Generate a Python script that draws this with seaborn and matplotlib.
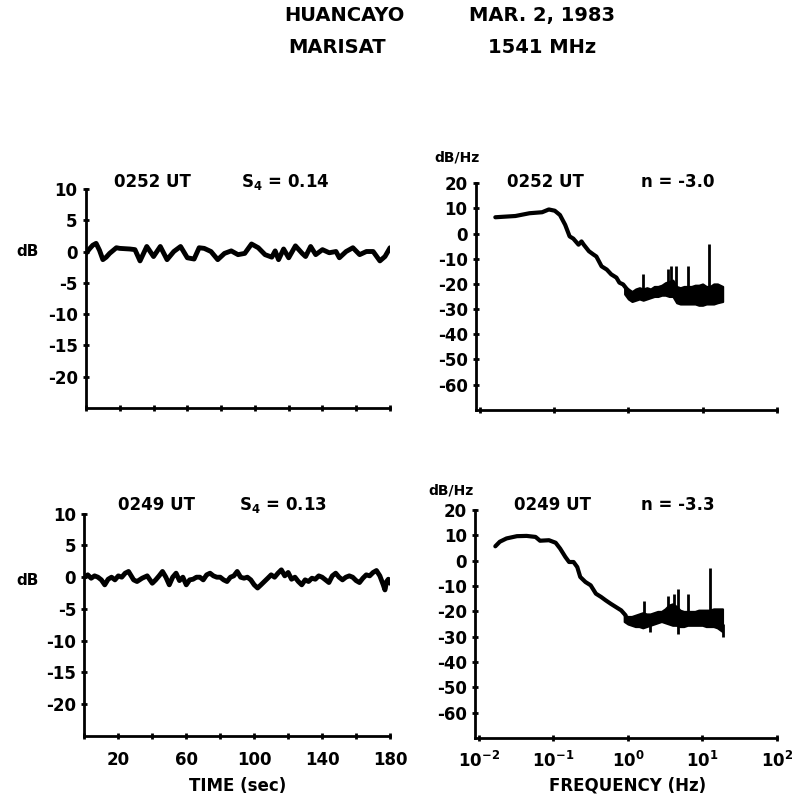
import numpy as np
import matplotlib
matplotlib.use('Agg')
import matplotlib.pyplot as plt
from matplotlib.ticker import LogLocator, NullLocator, FixedLocator, FixedFormatter
import seaborn as sns

# ---- amplitude records (time in s, level in dB) ----
t_0252 = [0, 2, 4, 6, 8, 10, 12, 14, 18, 20, 26, 29, 32, 36, 40, 44, 48, 52, 56, 60,
          64, 67, 70, 74, 78, 82, 86, 90, 94, 98, 102, 106, 110, 112, 114, 117, 120,
          124, 128, 130, 133, 136, 140, 144, 148, 150, 154, 158, 162, 166, 170, 174,
          177, 180]
db_0252 = [-0.3, 0.4, 1.0, 1.3, 0.2, -1.3, -0.9, -0.3, 0.6, 0.5, 0.4, 0.3, -1.5, 0.8,
           -0.8, 0.8, -1.3, 0.0, 0.8, -1.0, -1.2, 0.6, 0.5, 0.0, -1.3, -0.3, 0.1, -0.5,
           -0.3, 1.2, 0.6, -0.5, -0.9, 0.1, -1.3, 0.4, -1.0, 0.9, -0.3, -0.8, 0.8, -0.5,
           0.3, -0.2, 0.0, -1.0, 0.0, 0.6, -0.5, 0.0, 0.0, -1.5, -0.8, 0.6]

t_0249 = [0, 2, 4, 6, 8, 10, 12, 14, 16, 18, 20, 22, 24, 26, 29, 31, 34, 37, 40, 42,
          44, 46, 48, 50, 52, 54, 56, 58, 60, 62, 64, 66, 68, 70, 72, 74, 76, 78, 80,
          82, 84, 86, 88, 90, 92, 94, 96, 98, 100, 102, 104, 106, 108, 110, 112, 114,
          116, 118, 120, 122, 124, 126, 128, 130, 132, 134, 136, 138, 140, 142, 144,
          146, 148, 150, 152, 154, 156, 158, 160, 162, 164, 166, 168, 170, 172, 174,
          176, 177, 178, 179, 180]
db_0249 = [0.0, 0.37, -0.16, 0.21, 0.0, -0.42, -1.2, -0.32, 0.0, -0.42, 0.21, 0.0, 0.63,
           0.9, -0.42, -0.68, -0.16, 0.21, -0.95, -0.42, 0.21, 0.9, 0.0, -1.2, 0.0, 0.63,
           -0.53, 0.0, -1.2, -0.42, -0.32, 0.0, 0.0, -0.42, 0.37, 0.63, 0.21, 0.0, 0.0,
           -0.42, -0.68, 0.0, 0.21, 0.9, 0.0, -0.16, 0.0, -0.42, -1.2, -1.7, -1.2, -0.68,
           -0.16, 0.37, 0.0, 0.63, 1.16, 0.21, 0.74, -0.32, 0.0, -0.68, -1.2, -0.42,
           -0.68, -0.16, -0.32, 0.21, 0.0, -0.42, -0.84, 0.21, 0.63, 0.0, -0.42, 0.0,
           0.21, 0.0, -0.53, -0.84, -0.16, 0.37, 0.21, 0.74, 1.05, 0.21, -1.2, -2.0,
           -0.68, -0.32, -0.95]

# ---- spectra: log10(frequency) and dB/Hz ----
lf_0252 = [-1.79, -1.52, -1.33, -1.16, -1.07, -0.99, -0.92, -0.85, -0.79, -0.74, -0.67,
           -0.63, -0.60, -0.53, -0.47, -0.43, -0.36, -0.29, -0.23, -0.16, -0.12, -0.07, 0.0]
sp_0252 = [6.5, 7.0, 8.1, 8.5, 9.6, 9.1, 7.4, 3.5, -1.1, -2.0, -4.4, -3.1, -4.4, -7.0,
           -8.3, -9.1, -13.0, -14.3, -16.2, -17.5, -19.5, -20.2, -22.8]
lf_0249 = [-1.78, -1.72, -1.63, -1.49, -1.36, -1.24, -1.18, -1.06, -0.97, -0.91, -0.84,
           -0.79, -0.73, -0.68, -0.64, -0.57, -0.50, -0.43, -0.36, -0.30, -0.23, -0.16,
           -0.09, -0.03]
sp_0249 = [5.7, 7.5, 8.8, 9.7, 9.8, 9.4, 7.9, 8.1, 7.1, 4.8, 1.5, -0.5, -0.5, -2.5, -6.4,
           -8.4, -9.7, -13.0, -14.3, -15.6, -17.0, -18.3, -19.6, -21.6]

# noisy high-frequency part: band edges
band_lf = [-0.05, 0.0, 0.05, 0.1, 0.15, 0.2, 0.25, 0.3, 0.35, 0.4, 0.45, 0.5, 0.55, 0.6,
           0.65, 0.7, 0.75, 0.8, 0.85, 0.9, 0.95, 1.0, 1.05, 1.1, 1.15, 1.2, 1.27]
hi_0252 = [-21, -22, -23, -22, -21.5, -22, -21.5, -22, -21, -21, -20.5, -19.5, -19, -18.5,
           -21, -21.5, -21, -21, -21, -20.5, -20.5, -20, -21, -21, -20, -20, -21]
lo_0252 = [-24, -26, -27, -26.5, -26, -26.5, -26, -25.5, -25, -25, -24.5, -24.5, -25, -25,
           -27.5, -28, -28, -28, -28, -28, -28.5, -28.5, -28, -28, -28, -27.5, -27]
hi_0249 = [-21.5, -22, -22, -21.5, -21, -20.5, -21, -21, -20.5, -20, -20, -19, -17.5, -17,
           -18, -19.5, -20, -20, -20, -20, -19.5, -19.5, -19.5, -19.5, -19, -19, -19]
lo_0249 = [-24, -25, -25.5, -26, -26, -26.5, -26, -25.5, -25, -24.5, -24, -24.5, -25,
           -25.5, -25.5, -26, -26, -25.5, -25.5, -25.5, -25.5, -25.5, -26, -26, -26, -26.5, -28]
# narrow spectral lines (upward) and dropouts (downward)
spk_lf_0252 = [0.20, 0.53, 0.58, 0.64, 0.80, 1.08]
spk_db_0252 = [-16, -14, -13, -13, -13, -4]
spk_lf_0249 = [0.21, 0.54, 0.62, 0.67, 0.81, 1.10]
spk_db_0249 = [-16, -14, -13, -11, -13, -3]
dip_lf_0249 = [0.30, 0.67, 1.27]
dip_db_0249 = [-28, -29, -30]

time_ticks = [0, 20, 40, 60, 80, 100, 120, 140, 160, 180]
time_labels = ['', '20', '', '60', '', '100', '', '140', '', '180']
db_ticks = [10, 5, 0, -5, -10, -15, -20]
db_labels = ['10', '5', '0', '-5', '-10', '-15', '-20']
sp_ticks = [20, 10, 0, -10, -20, -30, -40, -50, -60]
sp_labels = ['20', '10', '0', '-10', '-20', '-30', '-40', '-50', '-60']

sns.set_style('ticks')
plt.rcParams['font.family'] = ['DejaVu Sans']
plt.rcParams['font.weight'] = 'bold'
plt.rcParams['text.color'] = 'black'
plt.rcParams['mathtext.fontset'] = 'custom'
plt.rcParams['mathtext.rm'] = 'DejaVu Sans:bold'
plt.rcParams['mathtext.it'] = 'DejaVu Sans:bold'
plt.rcParams['mathtext.bf'] = 'DejaVu Sans:bold'

fig = plt.figure(figsize=(7.96, 7.97), dpi=100)
ax_tl = fig.add_axes([0.108, 0.488, 0.382, 0.275])
ax_tr = fig.add_axes([0.598, 0.486, 0.378, 0.284])
ax_bl = fig.add_axes([0.106, 0.0765, 0.384, 0.279])
ax_br = fig.add_axes([0.597, 0.074, 0.379, 0.286])


def style(ax):
    sns.despine(ax=ax)
    for s in ['left', 'bottom']:
        ax.spines[s].set_linewidth(2)
        ax.spines[s].set_color('black')
    ax.tick_params(direction='inout', length=4, width=2, labelsize=12, pad=4, colors='black')
    ax.set_xlabel('')
    ax.set_ylabel('')


# amplitude panels
for ax, t, d in [(ax_tl, t_0252, db_0252), (ax_bl, t_0249, db_0249)]:
    sns.lineplot(x=t, y=d, ax=ax, color='black', lw=3.5)
    ax.set_xlim(0, 180)
    ax.set_ylim(-25, 10)
    ax.yaxis.set_major_locator(FixedLocator(db_ticks))
    ax.yaxis.set_major_formatter(FixedFormatter(db_labels))
    ax.xaxis.set_major_locator(FixedLocator(time_ticks))
    ax.xaxis.set_major_formatter(FixedFormatter(time_labels))
    style(ax)
ax_tl.tick_params(axis='x', labelbottom=False)
ax_bl.tick_params(axis='x', pad=9)

# spectra panels
for ax, lf, sp, hi, lo, slf, sdb in [
        (ax_tr, lf_0252, sp_0252, hi_0252, lo_0252, spk_lf_0252, spk_db_0252),
        (ax_br, lf_0249, sp_0249, hi_0249, lo_0249, spk_lf_0249, spk_db_0249)]:
    sns.lineplot(x=10 ** np.array(lf), y=sp, ax=ax, color='black', lw=3)
    ax.fill_between(10 ** np.array(band_lf), lo, hi, color='black', lw=1.5, edgecolor='black')
    ax.vlines(10 ** np.array(slf), -22, sdb, color='black', lw=2)
    ax.set_xscale('log')
    ax.set_xlim(10 ** -2.05, 100)
    ax.set_ylim(-70, 20)
    ax.xaxis.set_major_locator(LogLocator(base=10, numticks=10))
    ax.xaxis.set_minor_locator(NullLocator())
    ax.yaxis.set_major_locator(FixedLocator(sp_ticks))
    ax.yaxis.set_major_formatter(FixedFormatter(sp_labels))
    style(ax)
ax_br.vlines(10 ** np.array(dip_lf_0249), -25, dip_db_0249, color='black', lw=2)
ax_tr.tick_params(axis='x', labelbottom=False)
ax_br.tick_params(axis='x', pad=7)

# header
fs = 14
fig.text(0.433, 0.980, 'HUANCAYO', ha='center', va='center', fontsize=fs, fontweight='bold')
fig.text(0.681, 0.980, 'MAR. 2, 1983', ha='center', va='center', fontsize=fs, fontweight='bold')
fig.text(0.423, 0.940, 'MARISAT', ha='center', va='center', fontsize=fs, fontweight='bold')
fig.text(0.681, 0.940, '1541 MHz', ha='center', va='center', fontsize=fs, fontweight='bold')

# panel annotations
pf = 12
fig.text(0.191, 0.772, '0252 UT', ha='center', va='center', fontsize=pf)
fig.text(0.358, 0.772, 'S$_4$ = 0.14', ha='center', va='center', fontsize=pf)
fig.text(0.685, 0.772, '0252 UT', ha='center', va='center', fontsize=pf)
fig.text(0.851, 0.772, 'n = -3.0', ha='center', va='center', fontsize=pf)
fig.text(0.196, 0.366, '0249 UT', ha='center', va='center', fontsize=pf)
fig.text(0.355, 0.366, 'S$_4$ = 0.13', ha='center', va='center', fontsize=pf)
fig.text(0.694, 0.366, '0249 UT', ha='center', va='center', fontsize=pf)
fig.text(0.852, 0.366, 'n = -3.3', ha='center', va='center', fontsize=pf)

fig.text(0.034, 0.684, 'dB', ha='center', va='center', fontsize=11)
fig.text(0.034, 0.272, 'dB', ha='center', va='center', fontsize=11)
fig.text(0.574, 0.803, 'dB/Hz', ha='center', va='center', fontsize=10)
fig.text(0.567, 0.384, 'dB/Hz', ha='center', va='center', fontsize=10)

fig.text(0.298, 0.014, 'TIME (sec)', ha='center', va='center', fontsize=12)
fig.text(0.788, 0.014, 'FREQUENCY (Hz)', ha='center', va='center', fontsize=12)

fig.savefig('out.png', dpi=100)
